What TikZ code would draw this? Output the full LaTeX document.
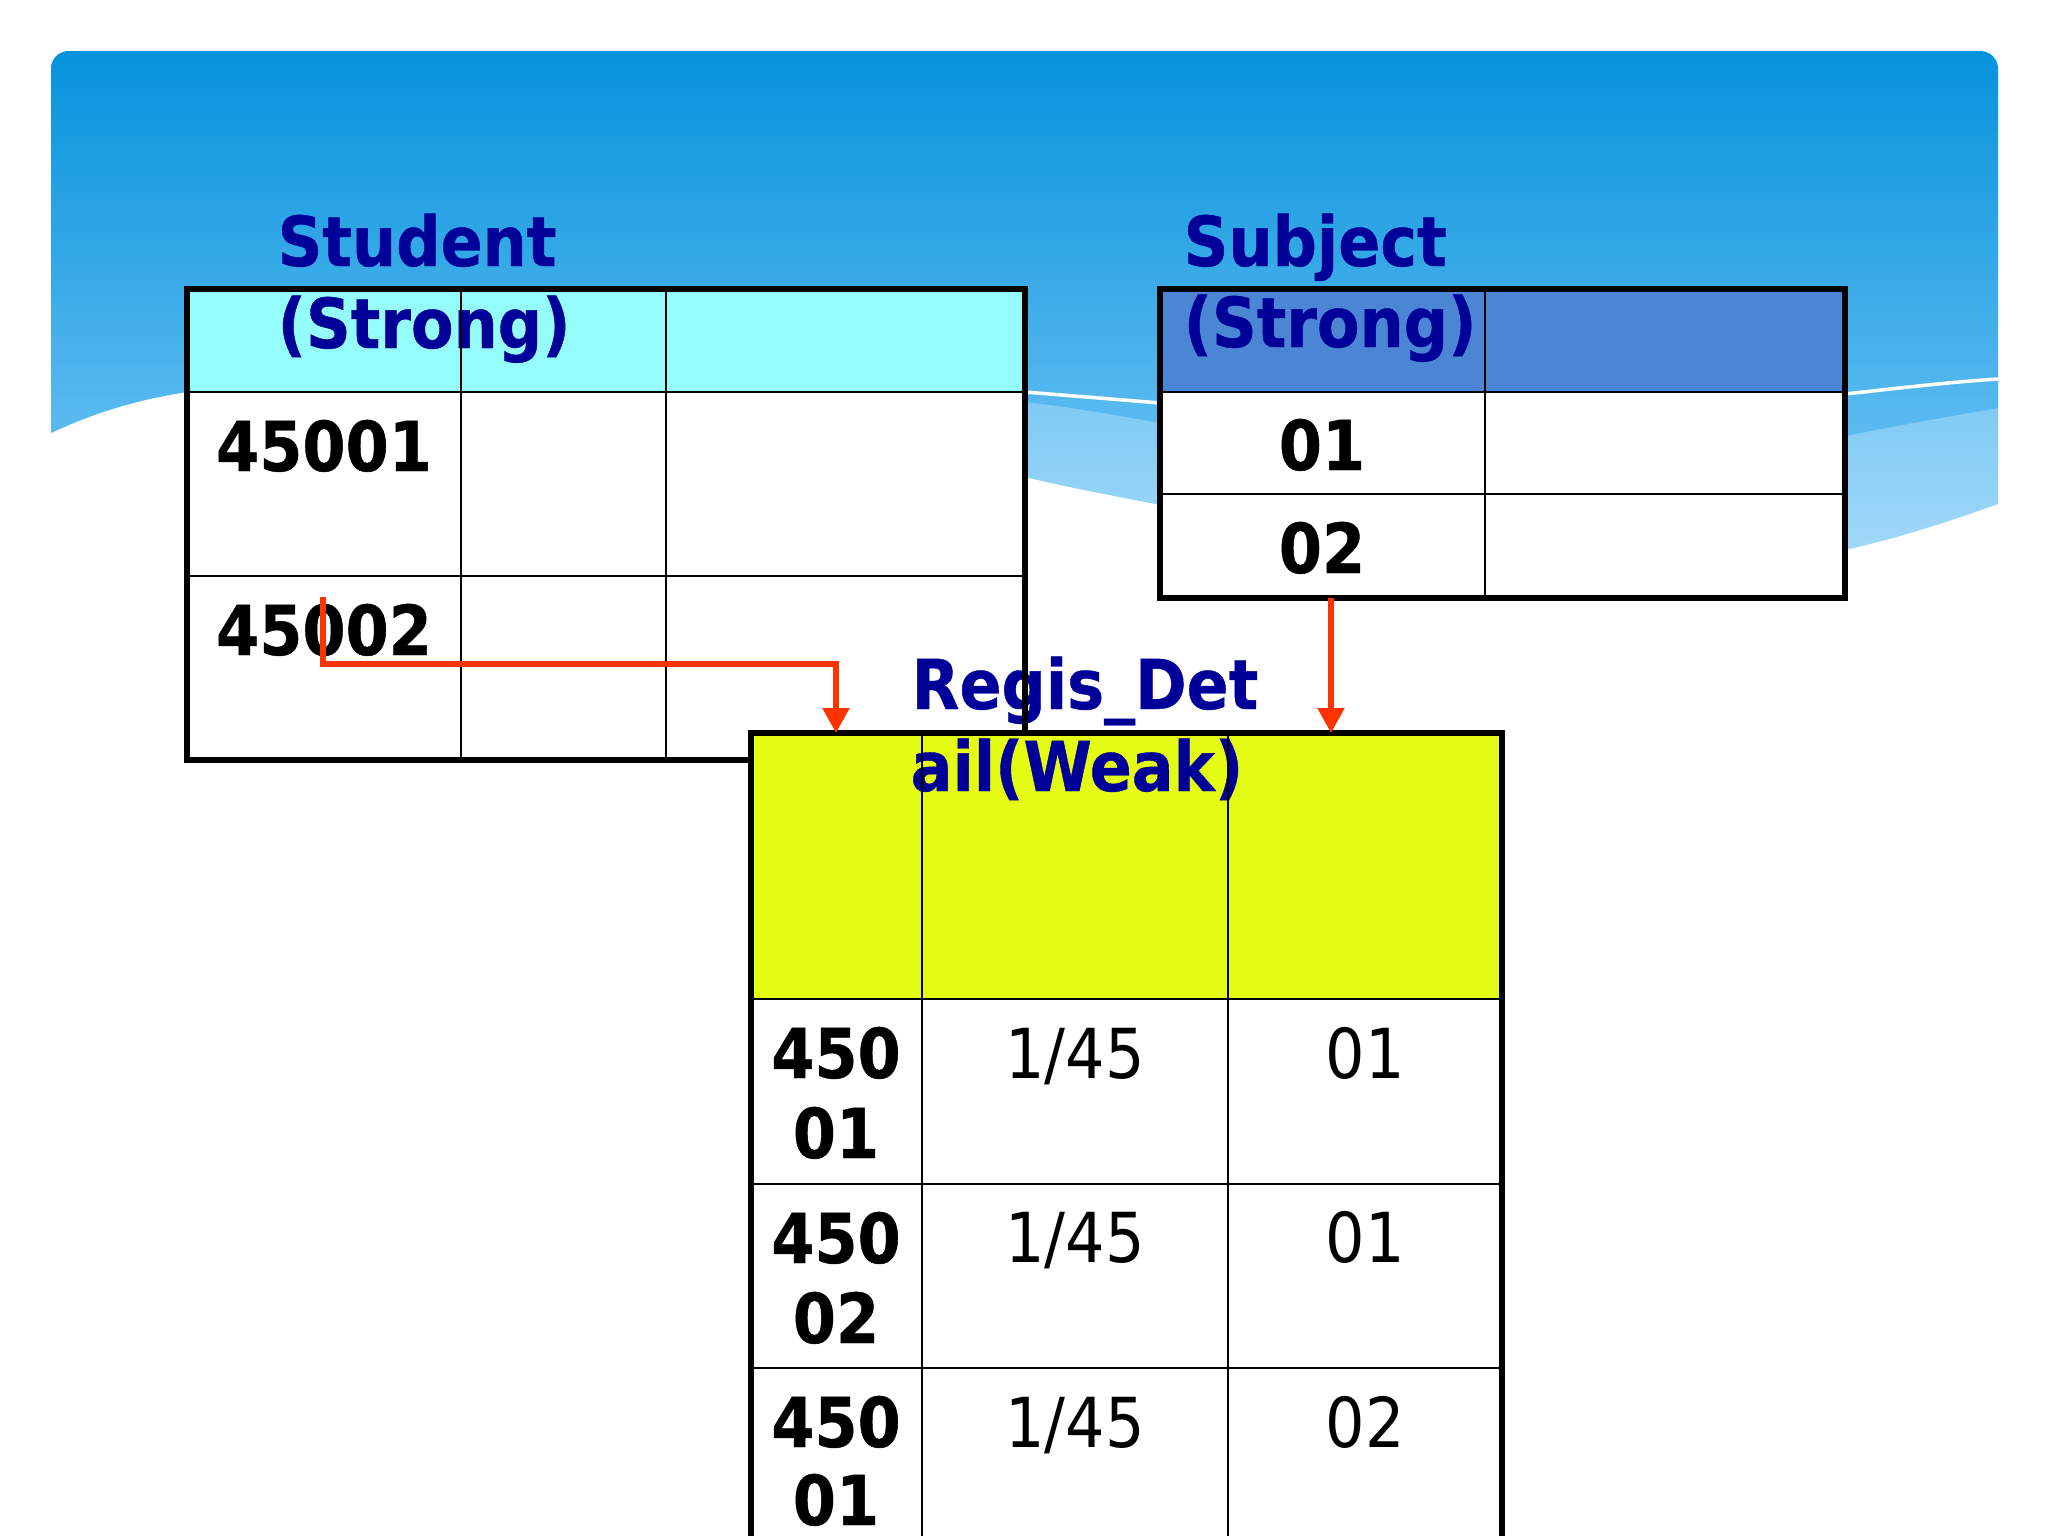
\documentclass[tikz,border=0pt]{standalone}
\usepackage{fontspec}
\usetikzlibrary{arrows.meta}
\newfontfamily\hdfont{DejaVu Sans Bold}[FakeStretch=0.9, FakeBold=0.6]
\newfontfamily\rgfont{DejaVu Sans}[FakeStretch=0.9]
\definecolor{titleblue}{RGB}{0,0,153}
\definecolor{fkred}{RGB}{255,51,0}
\definecolor{bgtop}{RGB}{6,147,220}
\definecolor{bgbottom}{RGB}{92,187,240}
\definecolor{wavetop}{RGB}{122,200,244}
\definecolor{wavebottom}{RGB}{160,216,248}
\definecolor{stuhead}{RGB}{148,252,251}
\definecolor{subhead}{RGB}{74,134,212}
\definecolor{reghead}{RGB}{228,251,20}
\tikzset{
        tbltitle/.style={font=\hdfont\fontsize{19.6}{23}\selectfont, text=titleblue, anchor=base west, inner sep=0pt},
        keytxt/.style={font=\hdfont\fontsize{19.6}{23}\selectfont, anchor=base, inner sep=0pt},
        valtxt/.style={font=\rgfont\fontsize{19.6}{23}\selectfont, anchor=base, inner sep=0pt},
        tblframe/.style={line width=1.7pt},
        cellline/.style={line width=0.7pt},
        fk/.style={draw=fkred, line width=1.5pt, -{Triangle[width=7.4pt,length=7.1pt]}}
        }

\begin{document}
\begin{tikzpicture}[x=0.01cm, y=-0.01cm]
        \useasboundingbox (0,0) rectangle (2048,1536);
        \clip (0,0) rectangle (2048,1536);

        % slide background waves
        \shade[top color=wavetop, bottom color=wavebottom] (400,380) -- (1998,380) -- (1998,504)
              .. controls (1940,525) and (1890,540) .. (1845,550) -- (1160,505)
              .. controls (1110,495) and (1070,488) .. (1025,477) -- (400,420) -- cycle;
        \shade[top color=bgtop, bottom color=bgbottom] (51,433) [rounded corners=5pt] -- (51,51) -- (1998,51) -- (1998,300)
              [sharp corners] -- (1998,408) .. controls (1940,418) and (1890,427) .. (1845,436) -- (1160,423)
              .. controls (1110,414) and (1070,407) .. (1025,402) -- (187,392)
              .. controls (130,401) and (90,415) .. (51,433) -- cycle;
        \draw[white, line width=1pt] (900,385) -- (1025,392) -- (1160,403) -- (1845,394)
              .. controls (1900,388) and (1950,382) .. (1998,379);

        % cell fills
        \fill[stuhead] (187,289) rectangle (1025,392);
        \fill[white] (187,392) rectangle (1025,760);
        \fill[subhead] (1160,289) rectangle (1845,392);
        \fill[white] (1160,392) rectangle (1845,598);
        \fill[reghead] (751,733) rectangle (1502,999);
        \fill[white] (751,999) rectangle (1502,1553);

        % table names
        \node[tbltitle] (stuname) at (277,266) {Student};
        \node[tbltitle] (stukind) at (277,348) {(Strong)};
        \node[tbltitle] (subname) at (1183,266) {Subject};
        \node[tbltitle] (subkind) at (1183,347) {(Strong)};
        \node[tbltitle] (regname) at (911,709) {Regis\_Det};
        \node[tbltitle] (regkind) at (910,791) {ail(Weak)};

        % Student (strong)
        \draw[cellline] (187,392) -- (1025,392) (187,576) -- (1025,576)
              (461,289) -- (461,760) (666,289) -- (666,760);
        \draw[tblframe] (751,760) -| (187,289) -| (1025,733);
        \node[keytxt] (stu1) at (324,471) {45001};
        \node[keytxt] (stu2) at (324,655) {45002};

        % Subject (strong)
        \draw[cellline] (1160,392) -- (1845,392) (1160,494) -- (1845,494) (1485,289) -- (1485,598);
        \draw[tblframe] (1160,289) rectangle (1845,598);
        \node[keytxt] (sub1) at (1322,470) {01};
        \node[keytxt] (sub2) at (1322,573) {02};

        % Regis_Detail (weak)
        \draw[cellline] (751,999) -- (1502,999) (751,1184) -- (1502,1184) (751,1368) -- (1502,1368)
              (922,733) -- (922,1553) (1228,733) -- (1228,1553);
        \draw[tblframe] (751,733) rectangle (1502,1553);
        \node[keytxt] (reg1a) at (836,1078) {450};
        \node[keytxt] (reg1b) at (836,1158) {01};
        \node[keytxt] (reg2a) at (836,1263) {450};
        \node[keytxt] (reg2b) at (836,1343) {02};
        \node[keytxt] (reg3a) at (836,1447) {450};
        \node[keytxt] (reg3b) at (836,1525) {01};
        \node[valtxt] (date1) at (1075,1078) {1/45};
        \node[valtxt] (date2) at (1075,1262) {1/45};
        \node[valtxt] (date3) at (1075,1447) {1/45};
        \node[valtxt] (code1) at (1365,1078) {01};
        \node[valtxt] (code2) at (1365,1262) {01};
        \node[valtxt] (code3) at (1365,1447) {02};

        % foreign keys
        \coordinate (stukey) at (323,597);
        \coordinate (bend) at (836,664);
        \coordinate (regstu) at (836,733);
        \coordinate (subkey) at (1331,598);
        \coordinate (regsub) at (1331,733);
        \draw[fk] (stukey) |- (bend) -- (regstu);
        \draw[fk] (subkey) -- (regsub);
\end{tikzpicture}
\end{document}
